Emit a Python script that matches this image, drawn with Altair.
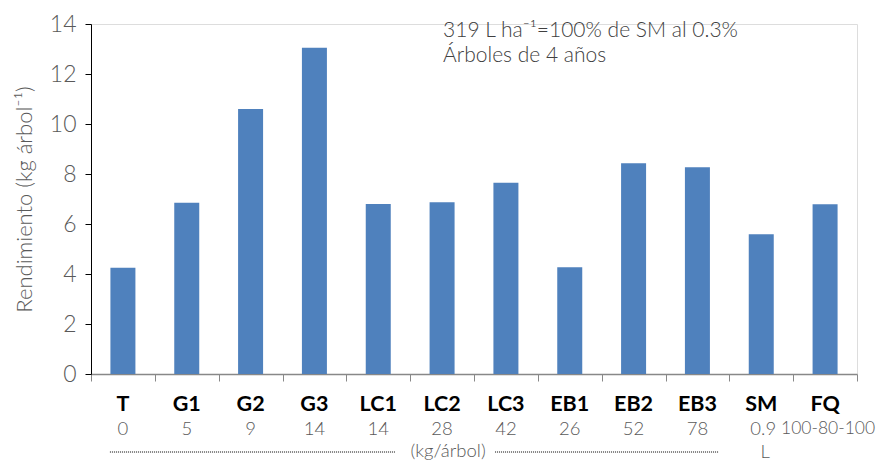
import altair as alt
import pandas as pd

categories = ["T", "G1", "G2", "G3", "LC1", "LC2", "LC3", "EB1", "EB2", "EB3", "SM", "FQ"]
doses = ["0", "5", "9", "14", "14", "28", "42", "26", "52", "78", "0.9", "100-80-100"]
yields = [4.25, 6.85, 10.6, 13.05, 6.8, 6.87, 7.65, 4.27, 8.43, 8.27, 5.59, 6.79]
note_lines = ["319 L ha⁻¹=100% de SM al 0.3%", "Árboles de 4 años"]
unit_label = "(kg/árbol)"
sm_unit = "L"
y_title = "Rendimiento (kg árbol⁻¹)"

df = pd.DataFrame({"cat": categories, "dose": doses, "val": yields})

FONT = "Lato"
GRAY = "#595959"
W, H = 766, 350
DOSE_FS = 18.5

xs = alt.X("cat:N", sort=categories,
           scale=alt.Scale(paddingInner=0, paddingOuter=0),
           axis=alt.Axis(title=None, labels=False, tickBand="extent",
                         domainColor="#888888", tickColor="#888888",
                         tickSize=7, domainWidth=1.3))

bars = alt.Chart(df).mark_bar(size=25, color="#4F81BD").encode(
    x=xs,
    y=alt.Y("val:Q", scale=alt.Scale(domain=[0, 14]),
            axis=alt.Axis(title=y_title, values=list(range(0, 15, 2)),
                          grid=False, domainColor="#000000", tickColor="#000000",
                          tickSize=6, labelFontSize=23, labelColor=GRAY,
                          labelFont=FONT, labelFontWeight=300, labelPadding=9,
                          titleFont=FONT, titleFontWeight=300, titleFontSize=22,
                          titleColor=GRAY, titlePadding=13)),
)

cat_text = alt.Chart(df).mark_text(font=FONT, fontWeight="bold", fontSize=21.5,
                                   color="#000000", baseline="middle").encode(
    x=alt.X("cat:N", sort=categories), y=alt.value(H + 31), text="cat:N")

dose_main = alt.Chart(df[~df["cat"].isin(["SM", "FQ"])]).mark_text(
    font=FONT, fontWeight=300, fontSize=DOSE_FS, color=GRAY, baseline="middle").encode(
    x=alt.X("cat:N", sort=categories), y=alt.value(H + 55), text="dose:N")
dose_sm = alt.Chart(df[df["cat"] == "SM"]).mark_text(
    font=FONT, fontWeight=300, fontSize=DOSE_FS, color=GRAY, baseline="middle", dx=2).encode(
    x=alt.X("cat:N", sort=categories), y=alt.value(H + 55), text="dose:N")
dose_fq = alt.Chart(df[df["cat"] == "FQ"]).mark_text(
    font=FONT, fontWeight=300, fontSize=17.5, color=GRAY, baseline="middle", dx=3).encode(
    x=alt.X("cat:N", sort=categories), y=alt.value(H + 55), text="dose:N")

base_ann = alt.Chart(pd.DataFrame({"a": [0]}))

rule_left = base_ann.mark_rule(color="#000000", strokeDash=[1, 1], strokeWidth=1,
                               xOffset=-13, x2Offset=-47).encode(
    x=alt.datum("T"), x2=alt.datum("LC2"), y=alt.value(H + 78))
rule_right = base_ann.mark_rule(color="#000000", strokeDash=[1, 1], strokeWidth=1,
                                xOffset=53, x2Offset=21).encode(
    x=alt.datum("LC2"), x2=alt.datum("EB3"), y=alt.value(H + 78))

unit_text = base_ann.mark_text(font=FONT, fontWeight=300, fontSize=DOSE_FS, color=GRAY,
                               baseline="middle", dx=6).encode(
    x=alt.datum("LC2"), y=alt.value(H + 77), text=alt.value(unit_label))
l_text = base_ann.mark_text(font=FONT, fontWeight=300, fontSize=DOSE_FS, color=GRAY,
                            baseline="middle", dx=4).encode(
    x=alt.datum("SM"), y=alt.value(H + 78), text=alt.value(sm_unit))

note1 = base_ann.mark_text(font=FONT, fontWeight=300, fontSize=21, color="#404040",
                           align="left", baseline="alphabetic", dx=1).encode(
    x=alt.datum("LC2"), y=alt.value(13), text=alt.value(note_lines[0]))
note2 = base_ann.mark_text(font=FONT, fontWeight=300, fontSize=21, color="#404040",
                           align="left", baseline="alphabetic", dx=1).encode(
    x=alt.datum("LC2"), y=alt.value(38), text=alt.value(note_lines[1]))

chart = alt.layer(bars, cat_text, dose_main, dose_sm, dose_fq, rule_left, rule_right,
                  unit_text, l_text, note1, note2).properties(
    width=W, height=H,
    autosize=alt.AutoSizeParams(type="none"),
    padding={"left": 83, "top": 16, "right": 20, "bottom": 87},
).configure_view(stroke=None).configure(background="white")

chart.save("out.html", embed_options={"renderer": "svg", "actions": False})
